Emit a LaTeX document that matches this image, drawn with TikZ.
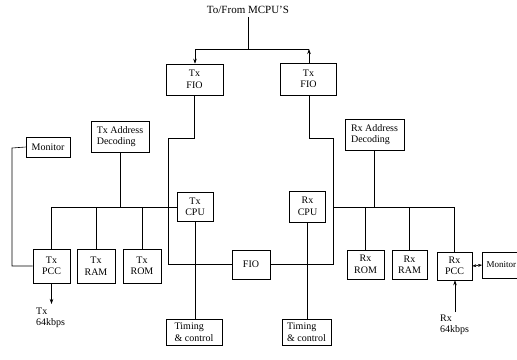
\documentclass[tikz,border=0pt]{standalone}
\usepackage{fontspec}
\setmainfont{Liberation Serif}
\usetikzlibrary{arrows.meta}
\begin{document}
\begin{tikzpicture}[x=1pt,y=-1pt,
  box/.style={draw, line width=0.6pt, inner sep=1pt, align=center, font=\fontsize{10}{11.5}\selectfont},
  sz/.style 2 args={minimum width=#1pt, minimum height=#2pt},
  lbl/.style={inner sep=0pt, align=left, font=\fontsize{10}{10.5}\selectfont},
  wire/.style={line width=0.6pt},
  arr/.style={wire, -{Stealth[length=5pt,width=3.5pt]}},
  darr/.style={wire, {Stealth[length=4pt,width=3pt]}-{Stealth[length=4pt,width=3pt]}}]
\useasboundingbox (0,0) rectangle (517,359);
\clip (0,0) rectangle (517,359);

% nodes
\node[lbl, font=\fontsize{11}{13}\selectfont] (title) at (248,10) {To/From MCPU'S};
\node[box,sz={57}{31}] (txfio) at (194.5,79.5) {Tx\\FIO};
\node[box,sz={56}{32}] (rxfio) at (308.5,79) {Tx\\FIO};
\node[box,sz={58}{31},align=left] (txad) at (120,136.5) {Tx Address\\Decoding};
\node[box,sz={59}{31},align=left] (rxad) at (374.5,134.5) {Rx Address\\Decoding};
\node[box,sz={44}{20}] (monl) at (48,147) {Monitor};
\node[box,sz={36}{29}] (txcpu) at (195,207) {Tx\\CPU};
\node[box,sz={36}{31}] (rxcpu) at (307.5,206.5) {Rx\\CPU};
\node[box,sz={37}{34}] (txpcc) at (51.5,266) {Tx\\PCC};
\node[box,sz={38}{34}] (txram) at (96,266) {Tx\\RAM};
\node[box,sz={38}{34}] (txrom) at (142,266) {Tx\\ROM};
\node[box,sz={38}{29}] (fio) at (251,264.5) {FIO};
\node[box,sz={37}{29}] (rxrom) at (365.5,264.5) {Rx\\ROM};
\node[box,sz={35}{29}] (rxram) at (409.5,264.5) {Rx\\RAM};
\node[box,sz={35}{28}] (rxpcc) at (454.5,266) {Rx\\PCC};
\node[box,sz={38}{26},anchor=west,font=\fontsize{9}{10}\selectfont] (monr) at (482,265) {Monitor};
\node[box,sz={56}{26},align=left] (tim1) at (194,332) {Timing\\\& control};
\node[box,sz={49}{26},align=left] (tim2) at (306.5,332) {Timing\\\& control};
\node[lbl, anchor=north west] (txlbl) at (36,308) {Tx\\64kbps};
\node[lbl, anchor=north west] (rxlbl) at (440,315) {Rx\\64kbps};

% coordinates
\coordinate (top) at (248,49);
\coordinate (tl) at (195,49);
\coordinate (tr) at (309,49);
\coordinate (a1) at (168,138);
\coordinate (a2) at (333,138);
\coordinate (rb) at (333,207);
\coordinate (m1) at (12,148);
\coordinate (txout) at (51.5,304);
\coordinate (rxin) at (455,312);

% connectors to/from MCPU
\draw[wire] ([yshift=-3pt]title.south) -- (top);
\draw[wire] (tl) -- (tr);
\draw[arr] (tl) -- (tl |- txfio.north);
\draw[arr] (tr |- rxfio.north) -- (tr);

% FIO links
\draw[wire] (txfio.south) |- (a1) |- (fio.west);
\draw[wire] (tr |- rxfio.south) |- (a2) |- (fio.east);

% Tx bus
\draw[wire] (txpcc.north |- txcpu.west) -- (txcpu.west);
\draw[wire] (txad.south) -- (txad.south |- txcpu.west);
\draw[wire] (txpcc.north |- txcpu.west) -- (txpcc.north);
\draw[wire] (txram.north |- txcpu.west) -- (txram.north);
\draw[wire] (txrom.north |- txcpu.west) -- (txrom.north);

% Monitor left
\draw[wire] (monl.west) -- (m1) |- (txpcc.west);

% Tx output
\draw[arr] (txpcc.south) -- (txout);

% Timing
\draw[wire] (txcpu.south) -- (txcpu.south |- tim1.north);
\draw[wire] (rxcpu.south) -- (rxcpu.south |- tim2.north);

% Rx bus
\draw[wire] (rb) -- (rxpcc.north |- rb);
\draw[wire] (rxad.south) -- (rxad.south |- rb);
\draw[wire] (rxrom.north |- rb) -- (rxrom.north);
\draw[wire] (rxram.north |- rb) -- (rxram.north);
\draw[wire] (rxpcc.north |- rb) -- (rxpcc.north);

% Monitor right
\draw[darr] (rxpcc.east) -- (monr.west);

% Rx input
\draw[arr] (rxin) -- (rxin |- rxpcc.south);
\end{tikzpicture}
\end{document}
